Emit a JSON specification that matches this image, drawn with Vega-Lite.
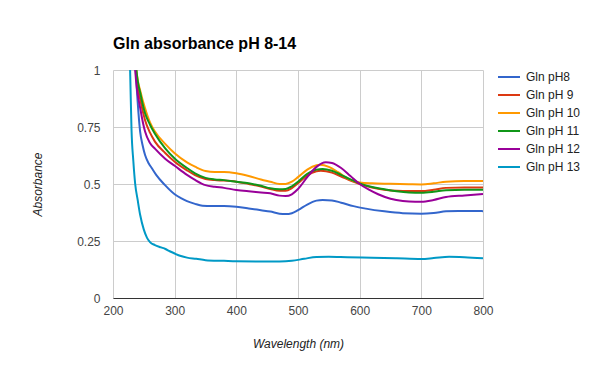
{
  "$schema": "https://vega.github.io/schema/vega-lite/v6.json",
  "width": 370,
  "height": 228,
  "autosize": {"type": "none"},
  "padding": {"left": 113, "top": 70, "right": 114, "bottom": 71},
  "background": "white",
  "config": {
    "view": {"stroke": null},
    "font": "Liberation Sans"
  },
  "title": {
    "text": "Gln absorbance pH 8-14",
    "anchor": "start",
    "frame": "group",
    "fontSize": 16,
    "fontWeight": "bold",
    "color": "#000000",
    "font": "Liberation Sans",
    "offset": 12
  },
  "data": {
    "values": [
      {"s": "Gln pH8", "x": 232, "y": 1.3}, {"s": "Gln pH8", "x": 237, "y": 0.99}, {"s": "Gln pH8", "x": 240, "y": 0.86}, {"s": "Gln pH8", "x": 244, "y": 0.73}, {"s": "Gln pH8", "x": 248, "y": 0.67}, {"s": "Gln pH8", "x": 252, "y": 0.627}, {"s": "Gln pH8", "x": 258, "y": 0.59}, {"s": "Gln pH8", "x": 263, "y": 0.569}, {"s": "Gln pH8", "x": 270, "y": 0.54}, {"s": "Gln pH8", "x": 284, "y": 0.496}, {"s": "Gln pH8", "x": 300, "y": 0.455}, {"s": "Gln pH8", "x": 311, "y": 0.437}, {"s": "Gln pH8", "x": 320, "y": 0.425}, {"s": "Gln pH8", "x": 333, "y": 0.413}, {"s": "Gln pH8", "x": 345, "y": 0.405}, {"s": "Gln pH8", "x": 360, "y": 0.403}, {"s": "Gln pH8", "x": 380, "y": 0.403}, {"s": "Gln pH8", "x": 400, "y": 0.4}, {"s": "Gln pH8", "x": 420, "y": 0.393}, {"s": "Gln pH8", "x": 440, "y": 0.385}, {"s": "Gln pH8", "x": 455, "y": 0.379}, {"s": "Gln pH8", "x": 470, "y": 0.37}, {"s": "Gln pH8", "x": 480, "y": 0.368}, {"s": "Gln pH8", "x": 490, "y": 0.372}, {"s": "Gln pH8", "x": 500, "y": 0.385}, {"s": "Gln pH8", "x": 515, "y": 0.41}, {"s": "Gln pH8", "x": 530, "y": 0.427}, {"s": "Gln pH8", "x": 540, "y": 0.43}, {"s": "Gln pH8", "x": 555, "y": 0.428}, {"s": "Gln pH8", "x": 570, "y": 0.418}, {"s": "Gln pH8", "x": 590, "y": 0.403}, {"s": "Gln pH8", "x": 610, "y": 0.392}, {"s": "Gln pH8", "x": 640, "y": 0.38}, {"s": "Gln pH8", "x": 670, "y": 0.372}, {"s": "Gln pH8", "x": 700, "y": 0.37}, {"s": "Gln pH8", "x": 720, "y": 0.373}, {"s": "Gln pH8", "x": 740, "y": 0.38}, {"s": "Gln pH8", "x": 760, "y": 0.382}, {"s": "Gln pH8", "x": 800, "y": 0.381},

      {"s": "Gln pH 9", "x": 233, "y": 1.3}, {"s": "Gln pH 9", "x": 237, "y": 1.0}, {"s": "Gln pH 9", "x": 245, "y": 0.86}, {"s": "Gln pH 9", "x": 252, "y": 0.78}, {"s": "Gln pH 9", "x": 260, "y": 0.725}, {"s": "Gln pH 9", "x": 268, "y": 0.686}, {"s": "Gln pH 9", "x": 285, "y": 0.635}, {"s": "Gln pH 9", "x": 300, "y": 0.598}, {"s": "Gln pH 9", "x": 320, "y": 0.56}, {"s": "Gln pH 9", "x": 333, "y": 0.539}, {"s": "Gln pH 9", "x": 350, "y": 0.522}, {"s": "Gln pH 9", "x": 365, "y": 0.517}, {"s": "Gln pH 9", "x": 380, "y": 0.515}, {"s": "Gln pH 9", "x": 400, "y": 0.51}, {"s": "Gln pH 9", "x": 420, "y": 0.5}, {"s": "Gln pH 9", "x": 440, "y": 0.489}, {"s": "Gln pH 9", "x": 455, "y": 0.478}, {"s": "Gln pH 9", "x": 470, "y": 0.47}, {"s": "Gln pH 9", "x": 480, "y": 0.47}, {"s": "Gln pH 9", "x": 490, "y": 0.482}, {"s": "Gln pH 9", "x": 500, "y": 0.503}, {"s": "Gln pH 9", "x": 515, "y": 0.538}, {"s": "Gln pH 9", "x": 530, "y": 0.556}, {"s": "Gln pH 9", "x": 537, "y": 0.558}, {"s": "Gln pH 9", "x": 555, "y": 0.55}, {"s": "Gln pH 9", "x": 570, "y": 0.533}, {"s": "Gln pH 9", "x": 585, "y": 0.515}, {"s": "Gln pH 9", "x": 600, "y": 0.5}, {"s": "Gln pH 9", "x": 620, "y": 0.485}, {"s": "Gln pH 9", "x": 640, "y": 0.475}, {"s": "Gln pH 9", "x": 660, "y": 0.47}, {"s": "Gln pH 9", "x": 680, "y": 0.469}, {"s": "Gln pH 9", "x": 700, "y": 0.469}, {"s": "Gln pH 9", "x": 720, "y": 0.475}, {"s": "Gln pH 9", "x": 740, "y": 0.483}, {"s": "Gln pH 9", "x": 770, "y": 0.485}, {"s": "Gln pH 9", "x": 800, "y": 0.485},

      {"s": "Gln pH 10", "x": 234, "y": 1.3}, {"s": "Gln pH 10", "x": 238, "y": 1.0}, {"s": "Gln pH 10", "x": 245, "y": 0.9}, {"s": "Gln pH 10", "x": 252, "y": 0.832}, {"s": "Gln pH 10", "x": 260, "y": 0.77}, {"s": "Gln pH 10", "x": 268, "y": 0.73}, {"s": "Gln pH 10", "x": 285, "y": 0.675}, {"s": "Gln pH 10", "x": 300, "y": 0.635}, {"s": "Gln pH 10", "x": 320, "y": 0.595}, {"s": "Gln pH 10", "x": 333, "y": 0.576}, {"s": "Gln pH 10", "x": 350, "y": 0.557}, {"s": "Gln pH 10", "x": 365, "y": 0.553}, {"s": "Gln pH 10", "x": 380, "y": 0.553}, {"s": "Gln pH 10", "x": 400, "y": 0.547}, {"s": "Gln pH 10", "x": 420, "y": 0.535}, {"s": "Gln pH 10", "x": 440, "y": 0.52}, {"s": "Gln pH 10", "x": 455, "y": 0.51}, {"s": "Gln pH 10", "x": 470, "y": 0.5}, {"s": "Gln pH 10", "x": 480, "y": 0.5}, {"s": "Gln pH 10", "x": 490, "y": 0.51}, {"s": "Gln pH 10", "x": 500, "y": 0.53}, {"s": "Gln pH 10", "x": 515, "y": 0.563}, {"s": "Gln pH 10", "x": 530, "y": 0.582}, {"s": "Gln pH 10", "x": 536, "y": 0.584}, {"s": "Gln pH 10", "x": 550, "y": 0.575}, {"s": "Gln pH 10", "x": 565, "y": 0.552}, {"s": "Gln pH 10", "x": 580, "y": 0.525}, {"s": "Gln pH 10", "x": 600, "y": 0.507}, {"s": "Gln pH 10", "x": 620, "y": 0.503}, {"s": "Gln pH 10", "x": 650, "y": 0.501}, {"s": "Gln pH 10", "x": 680, "y": 0.499}, {"s": "Gln pH 10", "x": 700, "y": 0.498}, {"s": "Gln pH 10", "x": 720, "y": 0.503}, {"s": "Gln pH 10", "x": 740, "y": 0.51}, {"s": "Gln pH 10", "x": 770, "y": 0.513}, {"s": "Gln pH 10", "x": 800, "y": 0.513},

      {"s": "Gln pH 11", "x": 234, "y": 1.3}, {"s": "Gln pH 11", "x": 238, "y": 1.0}, {"s": "Gln pH 11", "x": 245, "y": 0.89}, {"s": "Gln pH 11", "x": 252, "y": 0.81}, {"s": "Gln pH 11", "x": 260, "y": 0.76}, {"s": "Gln pH 11", "x": 268, "y": 0.72}, {"s": "Gln pH 11", "x": 285, "y": 0.655}, {"s": "Gln pH 11", "x": 300, "y": 0.612}, {"s": "Gln pH 11", "x": 320, "y": 0.57}, {"s": "Gln pH 11", "x": 333, "y": 0.547}, {"s": "Gln pH 11", "x": 350, "y": 0.527}, {"s": "Gln pH 11", "x": 365, "y": 0.52}, {"s": "Gln pH 11", "x": 380, "y": 0.517}, {"s": "Gln pH 11", "x": 400, "y": 0.51}, {"s": "Gln pH 11", "x": 420, "y": 0.503}, {"s": "Gln pH 11", "x": 440, "y": 0.492}, {"s": "Gln pH 11", "x": 455, "y": 0.481}, {"s": "Gln pH 11", "x": 470, "y": 0.477}, {"s": "Gln pH 11", "x": 480, "y": 0.478}, {"s": "Gln pH 11", "x": 490, "y": 0.49}, {"s": "Gln pH 11", "x": 500, "y": 0.51}, {"s": "Gln pH 11", "x": 515, "y": 0.545}, {"s": "Gln pH 11", "x": 530, "y": 0.563}, {"s": "Gln pH 11", "x": 540, "y": 0.566}, {"s": "Gln pH 11", "x": 555, "y": 0.558}, {"s": "Gln pH 11", "x": 570, "y": 0.54}, {"s": "Gln pH 11", "x": 585, "y": 0.52}, {"s": "Gln pH 11", "x": 600, "y": 0.503}, {"s": "Gln pH 11", "x": 620, "y": 0.487}, {"s": "Gln pH 11", "x": 640, "y": 0.477}, {"s": "Gln pH 11", "x": 660, "y": 0.468}, {"s": "Gln pH 11", "x": 680, "y": 0.463}, {"s": "Gln pH 11", "x": 700, "y": 0.462}, {"s": "Gln pH 11", "x": 720, "y": 0.466}, {"s": "Gln pH 11", "x": 740, "y": 0.473}, {"s": "Gln pH 11", "x": 770, "y": 0.475}, {"s": "Gln pH 11", "x": 800, "y": 0.475},

      {"s": "Gln pH 12", "x": 232, "y": 1.3}, {"s": "Gln pH 12", "x": 236, "y": 1.0}, {"s": "Gln pH 12", "x": 245, "y": 0.82}, {"s": "Gln pH 12", "x": 252, "y": 0.73}, {"s": "Gln pH 12", "x": 260, "y": 0.68}, {"s": "Gln pH 12", "x": 268, "y": 0.655}, {"s": "Gln pH 12", "x": 285, "y": 0.61}, {"s": "Gln pH 12", "x": 300, "y": 0.58}, {"s": "Gln pH 12", "x": 320, "y": 0.54}, {"s": "Gln pH 12", "x": 333, "y": 0.518}, {"s": "Gln pH 12", "x": 350, "y": 0.495}, {"s": "Gln pH 12", "x": 365, "y": 0.488}, {"s": "Gln pH 12", "x": 380, "y": 0.483}, {"s": "Gln pH 12", "x": 400, "y": 0.474}, {"s": "Gln pH 12", "x": 420, "y": 0.468}, {"s": "Gln pH 12", "x": 440, "y": 0.463}, {"s": "Gln pH 12", "x": 455, "y": 0.459}, {"s": "Gln pH 12", "x": 470, "y": 0.449}, {"s": "Gln pH 12", "x": 480, "y": 0.447}, {"s": "Gln pH 12", "x": 490, "y": 0.455}, {"s": "Gln pH 12", "x": 500, "y": 0.478}, {"s": "Gln pH 12", "x": 515, "y": 0.53}, {"s": "Gln pH 12", "x": 530, "y": 0.575}, {"s": "Gln pH 12", "x": 545, "y": 0.595}, {"s": "Gln pH 12", "x": 555, "y": 0.592}, {"s": "Gln pH 12", "x": 570, "y": 0.57}, {"s": "Gln pH 12", "x": 585, "y": 0.535}, {"s": "Gln pH 12", "x": 600, "y": 0.5}, {"s": "Gln pH 12", "x": 615, "y": 0.475}, {"s": "Gln pH 12", "x": 630, "y": 0.455}, {"s": "Gln pH 12", "x": 650, "y": 0.435}, {"s": "Gln pH 12", "x": 670, "y": 0.425}, {"s": "Gln pH 12", "x": 690, "y": 0.422}, {"s": "Gln pH 12", "x": 700, "y": 0.422}, {"s": "Gln pH 12", "x": 720, "y": 0.43}, {"s": "Gln pH 12", "x": 740, "y": 0.443}, {"s": "Gln pH 12", "x": 770, "y": 0.45}, {"s": "Gln pH 12", "x": 800, "y": 0.456},

      {"s": "Gln pH 13", "x": 225, "y": 1.3}, {"s": "Gln pH 13", "x": 228, "y": 0.97}, {"s": "Gln pH 13", "x": 230, "y": 0.74}, {"s": "Gln pH 13", "x": 233, "y": 0.6}, {"s": "Gln pH 13", "x": 236, "y": 0.5}, {"s": "Gln pH 13", "x": 240, "y": 0.43}, {"s": "Gln pH 13", "x": 244, "y": 0.365}, {"s": "Gln pH 13", "x": 250, "y": 0.3}, {"s": "Gln pH 13", "x": 255, "y": 0.265}, {"s": "Gln pH 13", "x": 260, "y": 0.245}, {"s": "Gln pH 13", "x": 268, "y": 0.232}, {"s": "Gln pH 13", "x": 278, "y": 0.222}, {"s": "Gln pH 13", "x": 285, "y": 0.215}, {"s": "Gln pH 13", "x": 292, "y": 0.205}, {"s": "Gln pH 13", "x": 300, "y": 0.195}, {"s": "Gln pH 13", "x": 310, "y": 0.184}, {"s": "Gln pH 13", "x": 320, "y": 0.177}, {"s": "Gln pH 13", "x": 335, "y": 0.172}, {"s": "Gln pH 13", "x": 350, "y": 0.166}, {"s": "Gln pH 13", "x": 380, "y": 0.163}, {"s": "Gln pH 13", "x": 400, "y": 0.161}, {"s": "Gln pH 13", "x": 440, "y": 0.16}, {"s": "Gln pH 13", "x": 470, "y": 0.16}, {"s": "Gln pH 13", "x": 490, "y": 0.163}, {"s": "Gln pH 13", "x": 510, "y": 0.172}, {"s": "Gln pH 13", "x": 530, "y": 0.18}, {"s": "Gln pH 13", "x": 550, "y": 0.181}, {"s": "Gln pH 13", "x": 580, "y": 0.179}, {"s": "Gln pH 13", "x": 620, "y": 0.177}, {"s": "Gln pH 13", "x": 660, "y": 0.174}, {"s": "Gln pH 13", "x": 700, "y": 0.171}, {"s": "Gln pH 13", "x": 720, "y": 0.175}, {"s": "Gln pH 13", "x": 745, "y": 0.181}, {"s": "Gln pH 13", "x": 770, "y": 0.179}, {"s": "Gln pH 13", "x": 800, "y": 0.174}
    ]
  },
  "mark": {"type": "line", "strokeWidth": 2, "interpolate": "monotone", "clip": true},
  "encoding": {
    "x": {
      "field": "x",
      "type": "quantitative",
      "scale": {"domain": [200, 800], "nice": false, "zero": false},
      "axis": {
        "values": [200, 300, 400, 500, 600, 700, 800],
        "title": "Wavelength (nm)",
        "titleFontStyle": "italic",
        "titleFontWeight": "normal",
        "titleFontSize": 12,
        "titleColor": "#222222",
        "titleFont": "Liberation Sans",
        "titleY": 45,
        "titleBaseline": "middle",
        "labelFontSize": 12,
        "labelColor": "#444444",
        "labelFont": "Liberation Sans",
        "labelPadding": 7,
        "ticks": false,
        "domain": true,
        "domainColor": "#333333",
        "domainWidth": 1,
        "grid": true,
        "gridColor": "#cccccc",
        "labelFlush": false
      }
    },
    "y": {
      "field": "y",
      "type": "quantitative",
      "scale": {"domain": [0, 1], "nice": false},
      "axis": {
        "values": [0, 0.25, 0.5, 0.75, 1],
        "format": ".2~f",
        "title": "Absorbance",
        "titleFontStyle": "italic",
        "titleFontWeight": "normal",
        "titleFontSize": 12,
        "titleColor": "#222222",
        "titleFont": "Liberation Sans",
        "titleX": -76,
        "titleY": 114,
        "titleAngle": -90,
        "titleBaseline": "middle",
        "labelFontSize": 12,
        "labelColor": "#444444",
        "labelFont": "Liberation Sans",
        "labelPadding": 13,
        "ticks": false,
        "domain": false,
        "grid": true,
        "gridColor": "#cccccc",
        "labelFlush": false
      }
    },
    "color": {
      "field": "s",
      "type": "nominal",
      "scale": {
        "domain": ["Gln pH8", "Gln pH 9", "Gln pH 10", "Gln pH 11", "Gln pH 12", "Gln pH 13"],
        "range": ["#3366cc", "#dc3912", "#ff9900", "#109618", "#990099", "#0099c6"]
      },
      "legend": {
        "title": null,
        "orient": "none",
        "legendX": 384,
        "legendY": -5,
        "symbolType": "stroke",
        "symbolStrokeWidth": 2,
        "symbolSize": 484,
        "labelFontSize": 12,
        "labelColor": "#222222",
        "labelFont": "Liberation Sans",
        "rowPadding": -1,
        "labelOffset": 5
      }
    }
  }
}
